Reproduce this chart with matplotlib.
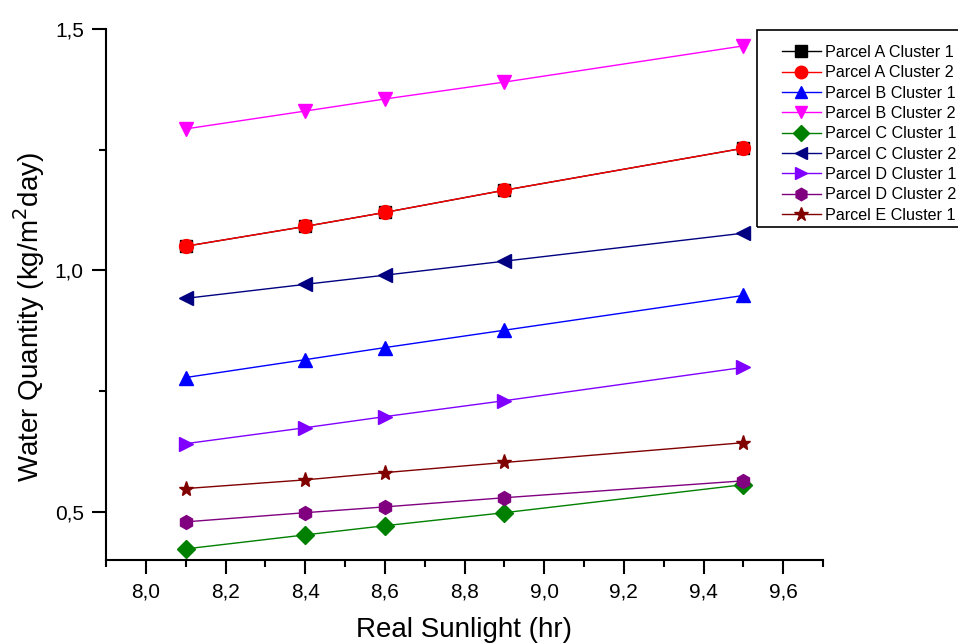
import numpy as np
import matplotlib.pyplot as plt
from matplotlib.patches import Rectangle
from matplotlib.ticker import MultipleLocator, FuncFormatter

plt.rcParams['font.family'] = ['Liberation Sans', 'DejaVu Sans']

# sunlight hours (x) for every series
sunlight = [8.1, 8.4, 8.6, 8.9, 9.5]

labels = ["Parcel A Cluster 1", "Parcel A Cluster 2", "Parcel B Cluster 1",
          "Parcel B Cluster 2", "Parcel C Cluster 1", "Parcel C Cluster 2",
          "Parcel D Cluster 1", "Parcel D Cluster 2", "Parcel E Cluster 1"]

a1 = [1.050, 1.091, 1.120, 1.166, 1.253]
a2 = [1.050, 1.091, 1.120, 1.166, 1.253]
b1 = [0.778, 0.815, 0.840, 0.876, 0.948]
b2 = [1.293, 1.330, 1.355, 1.390, 1.465]
c1 = [0.423, 0.452, 0.471, 0.498, 0.556]
c2 = [0.942, 0.971, 0.990, 1.019, 1.077]
d1 = [0.641, 0.674, 0.697, 0.730, 0.799]
d2 = [0.479, 0.498, 0.510, 0.529, 0.564]
e1 = [0.548, 0.566, 0.581, 0.602, 0.643]

series = [a1, a2, b1, b2, c1, c2, d1, d2, e1]
colors = ['black', 'red', 'blue', 'magenta', 'green', 'navy', '#8000ff', 'purple', 'maroon']
markers = ['s', 'o', '^', 'v', 'D', '<', '>', 'h', '*']
msizes = [9, 10, 10, 10, 9, 10, 10, 10, 11]

fig = plt.figure(figsize=(9.58, 6.44), dpi=100)
ax = fig.add_axes([106/958, 1-560/644, (823-106)/958, (560-29)/644])

for ys, lab, col, mk, ms in zip(series, labels, colors, markers, msizes):
    ax.plot(sunlight, ys, color=col, marker=mk, markersize=ms, linewidth=1,
            markeredgecolor=col, label=lab)

ax.set_xlim(7.9, 9.7)
ax.set_ylim(0.4, 1.5)
ax.xaxis.set_major_locator(MultipleLocator(0.2))
ax.xaxis.set_minor_locator(MultipleLocator(0.1))
ax.yaxis.set_major_locator(MultipleLocator(0.5))
ax.yaxis.set_minor_locator(MultipleLocator(0.25))
ax.xaxis.set_major_formatter(FuncFormatter(lambda v, p: f"{v:.1f}".replace('.', ',')))
ax.yaxis.set_major_formatter(FuncFormatter(lambda v, p: f"{v:.1f}".replace('.', ',')))

for s in ['top', 'right']:
    ax.spines[s].set_visible(False)
for s in ['left', 'bottom']:
    ax.spines[s].set_linewidth(1.5)

ax.tick_params(which='major', direction='out', length=10, width=1.5, labelsize=15)
ax.tick_params(axis='x', which='major', pad=6)
ax.tick_params(axis='y', which='major', pad=6)
ax.tick_params(which='minor', direction='out', length=5, width=1.5)

ax.set_xlabel("Real Sunlight (hr)", fontsize=20)
ax.set_ylabel("Water Quantity (kg/m$^2$day)", fontsize=20)
ax.xaxis.set_label_coords(0.5, -0.107)
ax.yaxis.set_label_coords(-0.082, 0.458)

# legend without its own frame, box drawn separately so it can run off the right edge
leg = fig.legend(loc='upper left', bbox_to_anchor=(782/958, 1-45/644), fontsize=11.6,
                 frameon=False, handlelength=2.4, borderpad=0, borderaxespad=0,
                 labelspacing=0.33, handletextpad=0.25, markerscale=0.9)
fig.patches.append(Rectangle((757/958, 1-227/644), 0.3, (227-30)/644,
                             transform=fig.transFigure, fill=False,
                             edgecolor='black', linewidth=1.2))

fig.savefig("out.png", dpi=100)
